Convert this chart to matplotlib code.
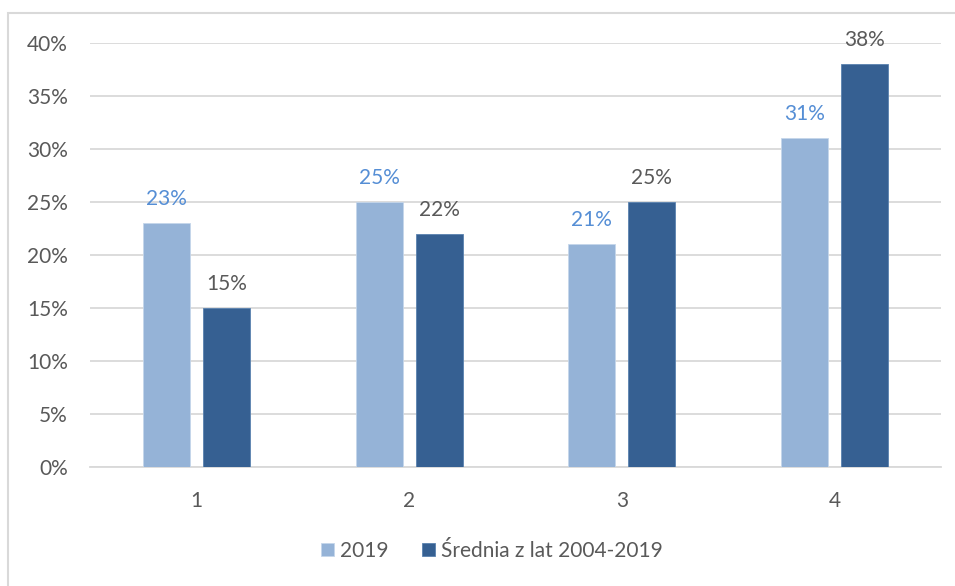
import matplotlib
matplotlib.use("Agg")
import matplotlib.pyplot as plt
from matplotlib.patches import Rectangle
import numpy as np

categories = ["1", "2", "3", "4"]
series_names = ["2019", "Średnia z lat 2004-2019"]
values_2019 = [23, 25, 21, 31]
values_avg = [15, 22, 25, 38]
yticks = [0, 5, 10, 15, 20, 25, 30, 35, 40]

plt.rcParams['font.family'] = ['Lato', 'DejaVu Sans']

W, H = 955, 586
fig = plt.figure(figsize=(W / 100, H / 100), dpi=100)

# outer chart frame
fig.patches.append(Rectangle((8 / W, -0.05), 1.2, (H - 13) / H + 0.05 - 0.0,
                             transform=fig.transFigure, fill=False,
                             edgecolor="#D9D9D9", linewidth=1.5))

ax = fig.add_axes([90 / W, (H - 467) / H, 851 / W, 424 / H])

c_light = "#95B3D7"
c_dark = "#366092"
x = np.arange(len(categories))
bw = 0.221
off = 0.141

b1 = ax.bar(x - off, values_2019, bw, color=c_light, edgecolor="#C5D6EA", linewidth=0.6, label=series_names[0], zorder=3)
b2 = ax.bar(x + off, values_avg, bw, color=c_dark, edgecolor="#5A82B0", linewidth=0.6, label=series_names[1], zorder=3)

for xi, v in zip(x - off, values_2019):
    ax.annotate(f"{v}%", (xi, v), xytext=(0, 13), textcoords="offset points",
                ha="center", va="baseline", color="#558ED5", fontsize=15)
for xi, v in zip(x + off, values_avg):
    ax.annotate(f"{v}%", (xi, v), xytext=(0, 13), textcoords="offset points",
                ha="center", va="baseline", color="#595959", fontsize=15)

ax.set_xlim(-0.5, len(categories) - 0.5)
ax.set_ylim(0, 40)
ax.set_yticks(yticks)
ax.set_yticklabels([f"{t}%" for t in yticks])
ax.set_xticks(x)
ax.set_xticklabels(categories)
ax.tick_params(axis="both", length=0, labelsize=15, labelcolor="#595959")
ax.tick_params(axis="y", pad=16)
ax.tick_params(axis="x", pad=17)
ax.grid(axis="y", color="#D9D9D9", linewidth=1.3, zorder=0)
ax.set_axisbelow(True)
for s in ["top", "right", "left"]:
    ax.spines[s].set_visible(False)
ax.spines["bottom"].set_color("#D9D9D9")
ax.spines["bottom"].set_linewidth(1.3)

leg = fig.legend(handles=[b1, b2], labels=series_names, loc="center",
                 bbox_to_anchor=(492 / W, (H - 551) / H), ncol=2, frameon=False,
                 fontsize=15, handlelength=0.6, handleheight=0.6, handletextpad=0.3,
                 columnspacing=1.6, labelcolor="#595959")

fig.savefig("out.png", dpi=100)
